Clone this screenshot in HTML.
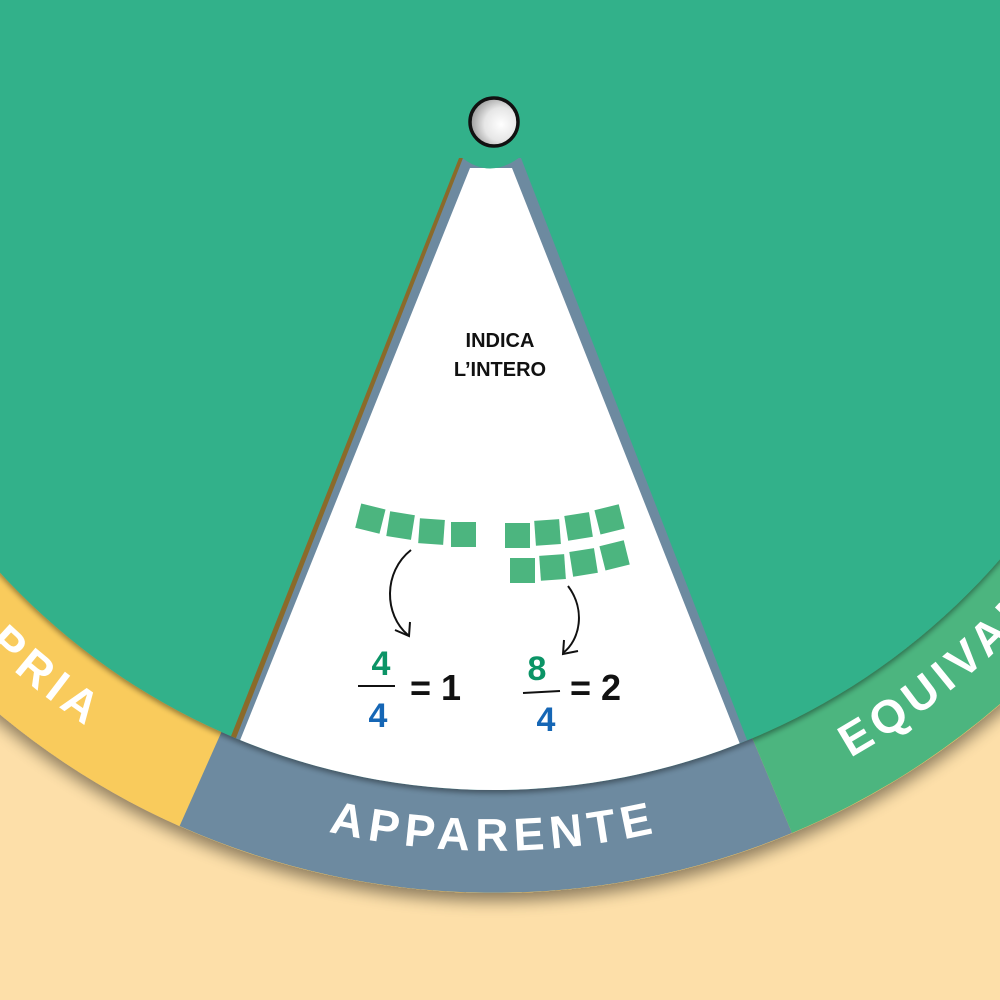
<!DOCTYPE html>
<html><head><meta charset="utf-8"><style>
html,body{margin:0;padding:0;background:#fddfa9;}
svg{display:block}
text{font-family:"Liberation Sans",sans-serif;}
</style></head><body>
<svg width="1000" height="1000" viewBox="0 0 1000 1000" xmlns="http://www.w3.org/2000/svg">
<defs>
<filter id="sh" x="-20%" y="-20%" width="140%" height="140%"><feGaussianBlur in="SourceAlpha" stdDeviation="8"/><feOffset dx="0" dy="8"/><feComponentTransfer><feFuncA type="linear" slope="0.45"/></feComponentTransfer><feMerge><feMergeNode/><feMergeNode in="SourceGraphic"/></feMerge></filter>
<filter id="sh2" x="-20%" y="-20%" width="140%" height="140%"><feGaussianBlur in="SourceAlpha" stdDeviation="3"/><feOffset dx="0" dy="3"/><feComponentTransfer><feFuncA type="linear" slope="0.4"/></feComponentTransfer><feMerge><feMergeNode/><feMergeNode in="SourceGraphic"/></feMerge></filter>
<radialGradient id="hole" cx="0.65" cy="0.55" r="0.7"><stop offset="0" stop-color="#ffffff"/><stop offset="0.5" stop-color="#e6e6e6"/><stop offset="1" stop-color="#8c8c8c"/></radialGradient>
<clipPath id="disc"><circle cx="494" cy="120" r="670"/></clipPath>
<path id="tp" d="M -225 247 A 730 730 0 0 0 1213 247"/>
</defs>
<rect width="1000" height="1000" fill="#fddfa9"/>
<g filter="url(#sh)">
<circle cx="494" cy="120" r="773" fill="#f9cb5c"/>
</g>
<path d="M494 120 L179.6 826 A773 773 0 0 0 792 833 Z" fill="#6d8aa0"/>
<path d="M494 120 L792 833 A773 773 0 0 0 1255 -14 Z" fill="#4cb57f"/>
<text font-size="46" font-weight="bold" fill="#fff" letter-spacing="6"><textPath href="#tp" startOffset="50%" text-anchor="middle">APPARENTE</textPath></text>
<text font-size="46" font-weight="bold" fill="#fff" letter-spacing="6"><textPath href="#tp" startOffset="592" text-anchor="end">PROPRIA</textPath></text>
<text font-size="46" font-weight="bold" fill="#fff" letter-spacing="6"><textPath href="#tp" startOffset="1392">EQUIVALENTE</textPath></text>
<g filter="url(#sh2)">
<circle cx="494" cy="120" r="670" fill="#33b18a"/>
</g>
<g clip-path="url(#disc)">
<polygon points="461,158 521,158 782,830 196,830" fill="#6d8aa0"/>
<polygon points="459,158 463,158 200,830 194,830" fill="#8a6a2a"/>
<polygon points="470,168 512,168 774,830 204,830" fill="#ffffff"/>
</g>
<path d="M461 157 Q490 180 520 157 L520 150 L461 150 Z" fill="#33b18a"/>
<circle cx="494" cy="122" r="24" fill="url(#hole)" stroke="#111" stroke-width="3.5"/>
<text x="500" y="347" font-size="20" font-weight="bold" fill="#111" text-anchor="middle">INDICA</text>
<text x="500" y="376" font-size="20" font-weight="bold" fill="#111" text-anchor="middle">L’INTERO</text>
<g fill="#4cb57f">
<rect x="358" y="506" width="25" height="25" transform="rotate(14 370 518)"/>
<rect x="388" y="513" width="25" height="25" transform="rotate(9 400 526)"/>
<rect x="419" y="519" width="25" height="25" transform="rotate(4 431 532)"/>
<rect x="451" y="522" width="25" height="25"/>
<rect x="505" y="523" width="25" height="25"/>
<rect x="535" y="520" width="25" height="25" transform="rotate(-4 547 532)"/>
<rect x="566" y="514" width="25" height="25" transform="rotate(-9 578 526)"/>
<rect x="597" y="507" width="25" height="25" transform="rotate(-14 609 519)"/>
<rect x="510" y="558" width="25" height="25"/>
<rect x="540" y="555" width="25" height="25" transform="rotate(-4 552 567)"/>
<rect x="571" y="550" width="25" height="25" transform="rotate(-9 583 562)"/>
<rect x="602" y="543" width="25" height="25" transform="rotate(-14 614 555)"/>
</g>
<g fill="none" stroke="#111" stroke-width="2">
<path d="M411 550 C383 572 384 615 408 635"/>
<path d="M395 630 L409 636 L410 622"/>
<path d="M568 586 C586 610 580 640 563 653"/>
<path d="M564 640 L563 654 L578 651"/>
</g>
<g font-weight="bold">
<text x="381" y="675" font-size="34" fill="#0b9466" text-anchor="middle">4</text>
<line x1="358" y1="686" x2="395" y2="686" stroke="#111" stroke-width="2"/>
<text x="378" y="727" font-size="34" fill="#1566b5" text-anchor="middle">4</text>
<text x="410" y="700" font-size="36" fill="#111">= 1</text>
<text x="537" y="680" font-size="34" fill="#0b9466" text-anchor="middle">8</text>
<line x1="523" y1="693" x2="560" y2="691" stroke="#111" stroke-width="2"/>
<text x="546" y="731" font-size="34" fill="#1566b5" text-anchor="middle">4</text>
<text x="570" y="700" font-size="36" fill="#111">= 2</text>
</g>
</svg>
</body></html>
